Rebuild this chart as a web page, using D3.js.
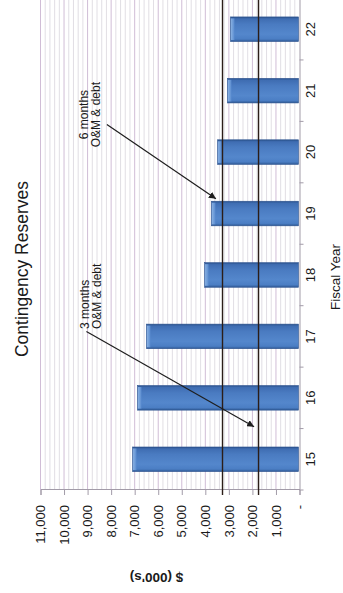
<!DOCTYPE html>
<html>
<head>
<meta charset="utf-8">
<script src="https://cdn.jsdelivr.net/npm/d3@7"></script>
<style>
  html, body { margin: 0; padding: 0; background: #fff; overflow: hidden; }
  svg { display: block; }
  text { font-family: "Liberation Sans", Arial, Helvetica, sans-serif; fill: #1a1a1a; }
</style>
</head>
<body>
<svg id="chart" width="343" height="593"></svg>
<script>
// Fiscal years and contingency reserve balances ($000's)
const years = ["15", "16", "17", "18", "19", "20", "21", "22"];
const reserves = [7090, 6880, 6500, 4030, 3740, 3480, 3060, 2930];

// Value axis ticks and their accounting-style labels
const valueTicks = [0, 1000, 2000, 3000, 4000, 5000, 6000, 7000, 8000, 9000, 10000, 11000];
const tickLabels = ["-", "1,000", "2,000", "3,000", "4,000", "5,000", "6,000", "7,000", "8,000", "9,000", "10,000", "11,000"];

// Reserve targets
const targetLabels = ["6 months", "3 months"];
const targetValues = [3270, 1740];

// Callouts: text lines, text anchor point (category index, value), arrow start and tip
const calloutText = [["3 months", "O&M & debt"], ["6 months", "O&M & debt"]];
const calloutAnchor = [{ i: 2.12, v: 8950, align: "start" }, { i: 5.61, v: 8980, align: "middle" }];
const calloutFrom = [{ i: 2.08, v: 9050 }, { i: 5.45, v: 8180 }];
const calloutTo = [{ i: 0.53, v: 1930 }, { i: 4.24, v: 3550 }];

// The chart is laid out landscape and turned a quarter turn on the page
const W = 593, H = 343;
const plot = { left: 103, right: 594.5, top: 40.5, bottom: 299.5 };

const svg = d3.select("#chart");
const defs = svg.append("defs");

const barGrad = defs.append("linearGradient")
  .attr("id", "barGrad").attr("x1", "0").attr("x2", "1").attr("y1", "0").attr("y2", "0");
[["0%", "#2e5893"], ["10%", "#4b7ec4"], ["30%", "#5487cc"], ["70%", "#4a7bc1"], ["92%", "#3f6db2"], ["100%", "#2b528c"]]
  .forEach(([o, c]) => barGrad.append("stop").attr("offset", o).attr("stop-color", c));

const capGrad = defs.append("linearGradient")
  .attr("id", "capGrad").attr("x1", "0").attr("x2", "0").attr("y1", "0").attr("y2", "1");
[["0%", "#8fb6e6"], ["100%", "#5a8cd0"]]
  .forEach(([o, c]) => capGrad.append("stop").attr("offset", o).attr("stop-color", c));

defs.append("marker")
  .attr("id", "arrowHead").attr("viewBox", "0 0 10 10")
  .attr("refX", 10).attr("refY", 5)
  .attr("markerWidth", 7).attr("markerHeight", 7)
  .attr("markerUnits", "userSpaceOnUse")
  .attr("orient", "auto")
  .append("path").attr("d", "M0,0 L10,5 L0,10 Z").attr("fill", "#1e1e1e");

const g = svg.append("g").attr("transform", `translate(0,${W}) rotate(-90)`);

const x = d3.scaleBand().domain(years).range([plot.left, plot.right])
  .paddingInner(0.6).paddingOuter(0.3);
const xi = d3.scaleLinear().domain([-0.5, years.length - 0.5]).range([plot.left, plot.right]);
const y = d3.scaleLinear().domain([0, 11000]).range([plot.bottom, plot.top]);

// Gridlines: light minor lines every 200, tinted major lines every 1,000
const minor = d3.range(0, 11001, 200).filter(v => v % 1000 !== 0);
g.append("g").selectAll("line").data(minor).join("line")
  .attr("x1", plot.left).attr("x2", plot.right + 2)
  .attr("y1", d => y(d)).attr("y2", d => y(d))
  .attr("stroke", "#d9d5dd").attr("stroke-width", 0.8);
g.append("g").selectAll("line").data(valueTicks.filter(v => v > 0)).join("line")
  .attr("x1", plot.left).attr("x2", plot.right + 2)
  .attr("y1", d => y(d)).attr("y2", d => y(d))
  .attr("stroke", "#d0bdd6").attr("stroke-width", 1);

// Value axis
const yAxis = d3.axisLeft(y).tickValues(valueTicks).tickSize(5).tickPadding(10)
  .tickFormat((d, i) => tickLabels[i]);
const ya = g.append("g").attr("transform", `translate(${plot.left},0)`).call(yAxis);
ya.select(".domain").attr("stroke", "#a29ba8");
ya.selectAll(".tick line").attr("stroke", "#a29ba8");
ya.selectAll(".tick text").attr("font-size", 13).attr("fill", "#1a1a1a")
  .style("font-family", '"Liberation Sans", Arial, sans-serif');

// Category axis along the zero line, ticks between categories
const xAxis = d3.axisBottom(x).tickSize(0).tickPadding(6);
const xa = g.append("g").attr("transform", `translate(0,${plot.bottom})`).call(xAxis);
xa.select(".domain").attr("stroke", "#a29ba8");
xa.selectAll(".tick text").attr("font-size", 13).attr("fill", "#1a1a1a")
  .style("font-family", '"Liberation Sans", Arial, sans-serif');
g.append("g").selectAll("line").data(d3.range(0, years.length + 1)).join("line")
  .attr("x1", d => xi(d - 0.5)).attr("x2", d => xi(d - 0.5))
  .attr("y1", plot.bottom).attr("y2", plot.bottom + 4)
  .attr("stroke", "#a29ba8");

// Bars
const bars = g.append("g").selectAll("g").data(reserves).join("g");
bars.append("rect")
  .attr("x", (d, i) => x(years[i])).attr("width", x.bandwidth())
  .attr("y", d => y(d)).attr("height", d => y(0) - y(d) - 1)
  .attr("fill", "url(#barGrad)")
  .attr("stroke", "#2d5490").attr("stroke-width", 0.6);
bars.append("rect")
  .attr("x", (d, i) => x(years[i]) + 1.5).attr("width", x.bandwidth() - 3)
  .attr("y", d => y(d) + 0.5).attr("height", 3.5)
  .attr("fill", "url(#capGrad)").attr("opacity", 0.9);

// Reserve target lines
g.append("g").selectAll("line").data(targetValues).join("line")
  .attr("class", (d, i) => "target " + targetLabels[i].replace(" ", "-"))
  .attr("x1", plot.left - 5).attr("x2", plot.right + 2)
  .attr("y1", d => y(d)).attr("y2", d => y(d))
  .attr("stroke", "#2b1d18").attr("stroke-width", 1.4);

// Callouts
calloutText.forEach((lines, k) => {
  const a = calloutAnchor[k];
  const t = g.append("text")
    .attr("x", xi(a.i)).attr("y", y(a.v))
    .attr("font-size", 12).attr("text-anchor", a.align);
  lines.forEach((s, j) => t.append("tspan").attr("x", xi(a.i)).attr("dy", j ? 12 : 0).text(s));
  g.append("line")
    .attr("x1", xi(calloutFrom[k].i)).attr("y1", y(calloutFrom[k].v))
    .attr("x2", xi(calloutTo[k].i)).attr("y2", y(calloutTo[k].v))
    .attr("stroke", "#1e1e1e").attr("stroke-width", 1.2)
    .attr("marker-end", "url(#arrowHead)");
});

// Titles
g.append("text").attr("x", 324).attr("y", 28)
  .attr("text-anchor", "middle").attr("font-size", 17.5)
  .text("Contingency Reserves");
g.append("text").attr("x", 316).attr("y", 339.5)
  .attr("text-anchor", "middle").attr("font-size", 13.5)
  .text("Fiscal Year");
g.append("text")
  .attr("transform", `translate(16,${(plot.top + plot.bottom) / 2 - 13.5}) rotate(-90)`)
  .attr("text-anchor", "middle").attr("dominant-baseline", "central")
  .attr("font-size", 13.5).attr("font-weight", "bold")
  .text("$ (000's)");
</script>
</body>
</html>
